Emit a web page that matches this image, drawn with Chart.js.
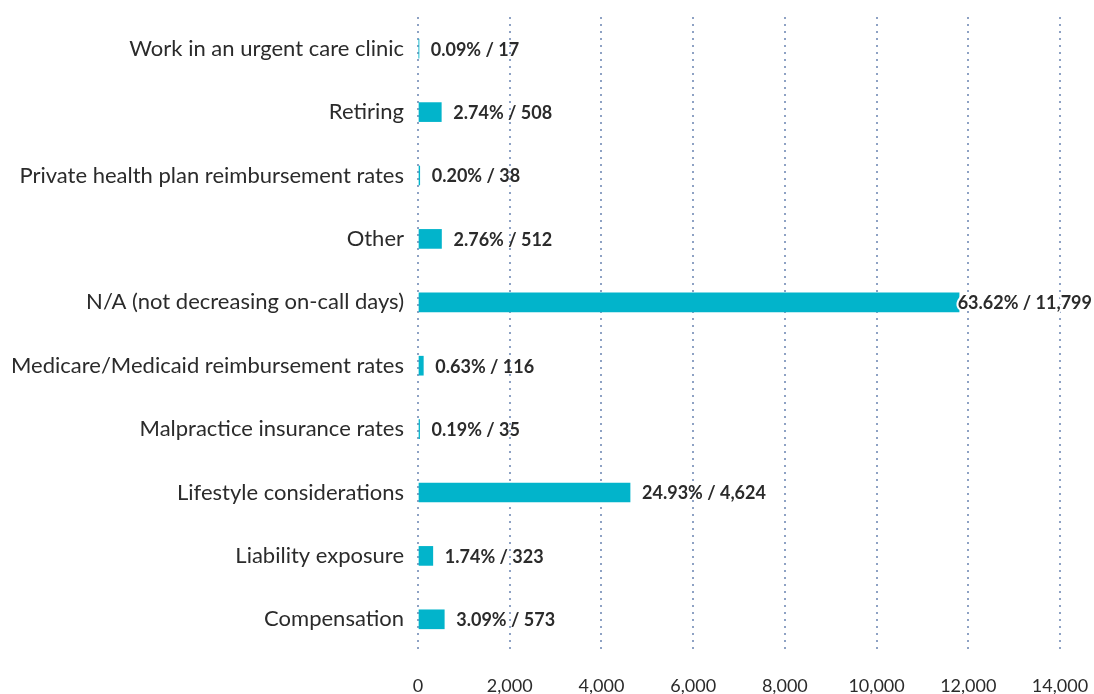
<!DOCTYPE html>
<html>
<head>
<meta charset="utf-8">
<script src="https://cdn.jsdelivr.net/npm/chart.js@4"></script>
<style>
  html, body { margin: 0; padding: 0; background: #ffffff; }
  #wrap { width: 1094px; height: 694px; position: relative; }
</style>
</head>
<body>
<div id="wrap"><canvas id="c" width="1094" height="694"></canvas></div>
<script>
const categories = [
  "Work in an urgent care clinic",
  "Retiring",
  "Private health plan reimbursement rates",
  "Other",
  "N/A (not decreasing on-call days)",
  "Medicare/Medicaid reimbursement rates",
  "Malpractice insurance rates",
  "Lifestyle considerations",
  "Liability exposure",
  "Compensation"
];
const counts = [17, 508, 38, 512, 11799, 116, 35, 4624, 323, 573];
const percents = [0.09, 2.74, 0.20, 2.76, 63.62, 0.63, 0.19, 24.93, 1.74, 3.09];
const xTicks = [0, 2000, 4000, 6000, 8000, 10000, 12000, 14000];

const FONT = "Lato, 'Open Sans', sans-serif";
const TEXT = "#2b2b2b";

const valueLabels = {
  id: "valueLabels",
  afterDatasetsDraw(chart) {
    const ctx = chart.ctx;
    const meta = chart.getDatasetMeta(0);
    ctx.save();
    ctx.font = "bold 18px " + FONT;
    ctx.fillStyle = TEXT;
    ctx.textBaseline = "middle";
    ctx.textAlign = "left";
    meta.data.forEach((bar, i) => {
      const txt = percents[i].toFixed(2) + "% / " + counts[i].toLocaleString("en-US");
      const w = ctx.measureText(txt).width;
      let x = bar.x + 12;
      if (x + w > chart.width - 2) {
        x = chart.width - 2 - w;
        ctx.save();
        ctx.strokeStyle = "#ffffff";
        ctx.lineWidth = 4;
        ctx.lineJoin = "round";
        ctx.strokeText(txt, x, bar.y + 1);
        ctx.restore();
      }
      ctx.fillText(txt, x, bar.y + 1);
    });
    ctx.restore();
  }
};

new Chart(document.getElementById("c"), {
  type: "bar",
  data: {
    labels: categories,
    datasets: [{
      data: counts,
      backgroundColor: "#02b4cb",
      borderWidth: 0,
      barThickness: 19
    }]
  },
  options: {
    indexAxis: "y",
    responsive: false,
    animation: false,
    devicePixelRatio: 1,
    layout: { padding: { top: 17, right: 34, bottom: 0, left: 0 } },
    plugins: { legend: { display: false }, tooltip: { enabled: false } },
    scales: {
      x: {
        type: "linear",
        min: 0,
        max: 14000,
        afterBuildTicks(scale) { scale.ticks = xTicks.map(v => ({ value: v })); },
        afterFit(scale) { scale.height = 43; scale.paddingLeft = 0; scale.paddingRight = 0; },
        grid: { display: true, color: "#8ea2c4", lineWidth: 2, drawTicks: false },
        border: { display: false, dash: [2, 5] },
        ticks: {
          padding: 24,
          color: TEXT,
          font: { family: FONT, size: 18 },
          callback: v => v.toLocaleString("en-US")
        }
      },
      y: {
        afterFit(scale) { scale.width = 418; scale.paddingTop = 0; scale.paddingBottom = 0; },
        grid: { display: false, drawTicks: false },
        border: { display: false },
        ticks: {
          padding: 14,
          color: TEXT,
          font: { family: FONT, size: 22 }
        }
      }
    }
  },
  plugins: [valueLabels]
});
</script>
</body>
</html>
